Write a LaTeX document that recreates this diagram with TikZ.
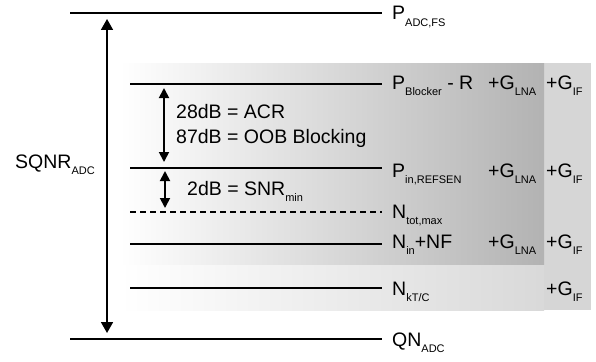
\documentclass[tikz,border=0pt]{standalone}
\usepackage{fontspec}
\setmainfont{Liberation Sans}
\usetikzlibrary{arrows.meta}
\newcommand\sbx[1]{\raisebox{-6.5pt}{\fontsize{11}{11}\selectfont #1}}
\begin{document}
\begin{tikzpicture}[x=1pt,y=-1pt,
  level/.style={line width=2pt},
  dashlevel/.style={line width=2pt,dash pattern=on 6pt off 4pt},
  dimarrow/.style={line width=1.8pt,{Triangle[length=10pt,width=10pt]}-{Triangle[length=10pt,width=10pt]}},
  bigarrow/.style={line width=1.8pt,{Triangle[length=11pt,width=12pt]}-{Triangle[length=11pt,width=12pt]}},
  lbl/.style={anchor=base west,inner sep=0pt,font=\fontsize{19.5}{20}\selectfont}]
\useasboundingbox (0,0) rectangle (596,361);
% background shading
\shade[left color=white,right color=black!15] (120,63) rectangle (544,310);
\fill[black!16] (544,63) rectangle (591,310);
\shade[left color=white,right color=black!30] (120,63) rectangle (544,264);
% level coordinates
\coordinate (fsL) at (70,13);   \coordinate (fsR) at (382,13);
\coordinate (blL) at (130,84);  \coordinate (blR) at (382,84);
\coordinate (rsL) at (130,168); \coordinate (rsR) at (382,168);
\coordinate (ntL) at (130,212); \coordinate (ntR) at (382,212);
\coordinate (niL) at (130,244); \coordinate (niR) at (382,244);
\coordinate (ktL) at (130,288); \coordinate (ktR) at (382,288);
\coordinate (qnL) at (70,339);  \coordinate (qnR) at (382,339);
\draw[level] (fsL) -- (fsR);
\draw[level] (blL) -- (blR);
\draw[level] (rsL) -- (rsR);
\draw[dashlevel] (ntL) -- (ntR);
\draw[level] (niL) -- (niR);
\draw[level] (ktL) -- (ktR);
\draw[level] (qnL) -- (qnR);
% arrows
\coordinate (sqT) at (107,19);  \coordinate (sqB) at (107,333);
\coordinate (a1T) at (164,88);  \coordinate (a1B) at (164,162);
\coordinate (a2T) at (165,171); \coordinate (a2B) at (165,208);
\draw[bigarrow] (sqT) -- (sqB);
\draw[dimarrow] (a1T) -- (a1B);
\draw[dimarrow] (a2T) -- (a2B);
% left texts
\node[lbl] (sqnr) at (15,168) {SQNR\sbx{ADC}};
\node[lbl] (acr) at (176,118) {28dB = ACR};
\node[lbl] (oob) at (176,143) {87dB = OOB Blocking};
\node[lbl] (snr) at (187,195) {2dB = SNR\sbx{min}};
% right labels
\node[lbl] (tfs) at (392,20) {P\sbx{ADC,FS}};
\node[lbl] (tbl) at (392,89) {P\sbx{Blocker} - R};
\node[lbl] (gbl1) at (488,89) {+G\sbx{LNA}};
\node[lbl] (gbl2) at (546,89) {+G\sbx{IF}};
\node[lbl] (trs) at (392,177) {P\sbx{in,REFSEN}};
\node[lbl] (grs1) at (488,177) {+G\sbx{LNA}};
\node[lbl] (grs2) at (546,177) {+G\sbx{IF}};
\node[lbl] (tnt) at (392,218) {N\sbx{tot,max}};
\node[lbl] (tni) at (392,248) {N\sbx{in}+NF};
\node[lbl] (gni1) at (488,248) {+G\sbx{LNA}};
\node[lbl] (gni2) at (546,248) {+G\sbx{IF}};
\node[lbl] (tkt) at (392,295) {N\sbx{kT/C}};
\node[lbl] (gkt) at (546,295) {+G\sbx{IF}};
\node[lbl] (tqn) at (392,346) {QN\sbx{ADC}};
\end{tikzpicture}
\end{document}
